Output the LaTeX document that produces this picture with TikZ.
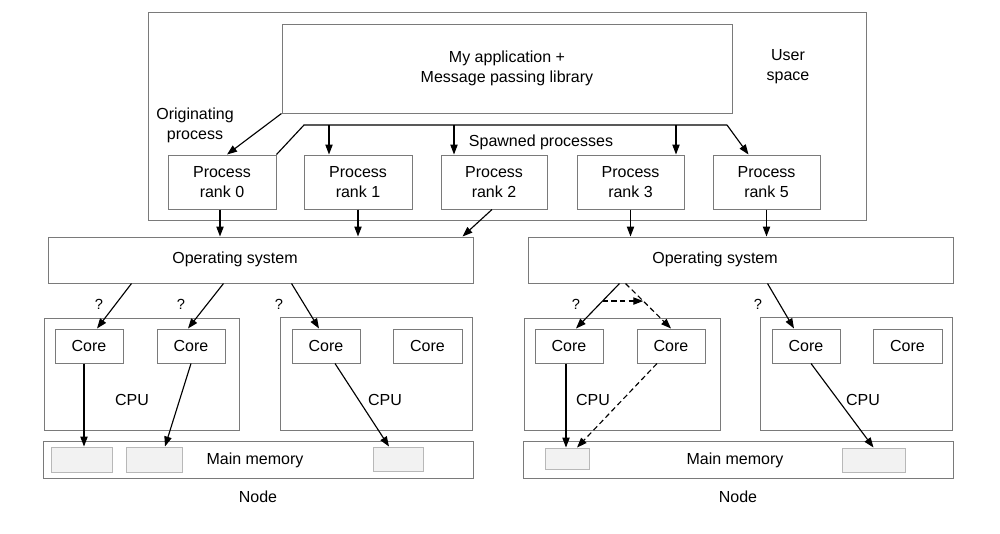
\documentclass[tikz,border=0pt]{standalone}
\usepackage{fontspec}
\setmainfont{Liberation Sans}
\usetikzlibrary{arrows.meta,calc}
\newcommand\bx[7]{\node[#2, minimum width={(#5-#3)*0.75pt}, minimum height={(#6-#4)*0.75pt}] (#1) at ({(#3+#5)/2},{(#4+#6)/2}) {#7};}
\tikzset{
  box/.style={draw=black!52, line width=0.75pt, inner sep=0pt, align=center, font=\fontsize{12}{15}\selectfont},
  blk/.style={draw=black!28, fill=black!5, line width=0.7pt, inner sep=0pt},
  lbl/.style={inner sep=0pt, align=center, font=\fontsize{12}{15}\selectfont},
  qm/.style={inner sep=0pt, font=\fontsize{11}{13}\selectfont},
  conn/.style={draw=black, line width=0.85pt},
  arr/.style={conn, -{Triangle[length=7.5pt,width=5.5pt]}},
  dsh/.style={dash pattern=on 4pt off 2.5pt}
}
\begin{document}
\begin{tikzpicture}[x=0.75pt,y=-0.75pt]
\useasboundingbox (0,0) rectangle (1000,533);
% user space
\bx{us}{box}{148}{12}{866}{220}{}
\bx{app}{box}{282}{24}{732}{113}{My application +\\Message passing library}
\node[lbl] (uslbl) at (788,67) {User\\space};
\node[lbl] (orig) at (195,125) {Originating\\process};
\node[lbl] (spawn) at (541,142) {Spawned processes};
\bx{proc0}{box}{168}{155}{276}{209}{Process\\rank 0}
\bx{proc1}{box}{304}{155}{412}{209}{Process\\rank 1}
\bx{proc2}{box}{441}{155}{547}{209}{Process\\rank 2}
\bx{proc3}{box}{577}{155}{684}{209}{Process\\rank 3}
\bx{proc5}{box}{713}{155}{820}{209}{Process\\rank 5}
% operating systems
\bx{os1}{box}{48}{237}{473}{283}{}
\bx{os2}{box}{528}{237}{953}{283}{}
\node[lbl] (os1t) at (235,259) {Operating system};
\node[lbl] (os2t) at (715,259) {Operating system};
% left node
\bx{cpuA}{box}{44}{318}{239}{430}{}
\bx{cpuB}{box}{280}{317}{472}{430}{}
\bx{coreA1}{box}{55}{329}{123}{363}{Core}
\bx{coreA2}{box}{157}{329}{225}{363}{Core}
\bx{coreA3}{box}{292}{329}{360}{363}{Core}
\bx{coreA4}{box}{393}{329}{462}{363}{Core}
\node[lbl] (cpuAt) at (132,400) {CPU};
\node[lbl] (cpuBt) at (385,400) {CPU};
\bx{memA}{box}{43}{441}{473}{478}{}
\node[lbl] (memAt) at (255,460) {Main memory};
\bx{blkA1}{blk}{51}{447}{112}{472}{}
\bx{blkA2}{blk}{126}{447}{182}{472}{}
\bx{blkA3}{blk}{373}{447}{423}{471}{}
\node[lbl] (nodeA) at (258,497) {Node};
% right node
\bx{cpuC}{box}{524}{318}{720}{430}{}
\bx{cpuD}{box}{760}{317}{952}{430}{}
\bx{coreB1}{box}{535}{329}{603}{363}{Core}
\bx{coreB2}{box}{637}{329}{705}{363}{Core}
\bx{coreB3}{box}{772}{329}{840}{363}{Core}
\bx{coreB4}{box}{873}{329}{942}{363}{Core}
\node[lbl] (cpuCt) at (593,400) {CPU};
\node[lbl] (cpuDt) at (863,400) {CPU};
\bx{memB}{box}{523}{441}{953}{478}{}
\node[lbl] (memBt) at (735,460) {Main memory};
\bx{blkB1}{blk}{545}{448}{589}{469}{}
\bx{blkB2}{blk}{842}{448}{905}{472}{}
\node[lbl] (nodeB) at (738,497) {Node};
% question marks
\node[qm] (q1) at (99,304) {?};
\node[qm] (q2) at (181,304) {?};
\node[qm] (q3) at (279,304) {?};
\node[qm] (q4) at (576,304) {?};
\node[qm] (q5) at (758,304) {?};
% originating and spawned
\draw[arr] (app.south west) -- ($(proc0.north)+(5,0)$);
\coordinate (sp1) at (304,125);
\coordinate (sp2) at (727,125);
\coordinate (b1) at (329,125);
\coordinate (b2) at (454,125);
\coordinate (b3) at (676,125);
\draw[conn] (proc0.north east) -- (sp1) -- (sp2);
\draw[arr] (sp2) -- ($(proc5.north west)+(36,0)$);
\draw[arr] (b1) -- (b1 |- proc1.north);
\draw[arr] (b2) -- (b2 |- proc2.north);
\draw[arr] (b3) -- (b3 |- proc3.north);
% processes to OS
\draw[arr] ($(proc0.south)+(-2,0)$) -- ($(proc0.south |- os1.north)+(-2,0)$);
\draw[arr] (proc1.south) -- (proc1.south |- os1.north);
\draw[arr] ($(proc2.south)+(-2,0)$) -- ($(os1.north east)+(-11,0)$);
\draw[arr] (proc3.south) -- (proc3.south |- os2.north);
\draw[arr] (proc5.south) -- (proc5.south |- os2.north);
% OS to cores, left
\draw[arr] ($(os1.south west)+(84,0)$) -- ($(coreA1.north)+(8,0)$);
\draw[arr] ($(os1.south west)+(176,0)$) -- ($(coreA2.north)+(-3,0)$);
\draw[arr] ($(os1.south west)+(244,0)$) -- ($(coreA3.north)+(-7,0)$);
% OS to cores, right
\coordinate (s1) at ($(os2.south west)+(92,0)$);
\coordinate (e1) at ($(coreB1.north)+(7,0)$);
\coordinate (s2) at ($(os2.south west)+(98,0)$);
\coordinate (e2) at (coreB2.north);
\draw[arr] (s1) -- (e1);
\draw[arr,dsh] (s2) -- (e2);
\draw[arr,dsh] ($(s1)!0.39!(e1)$) -- ($(s2)!0.39!(e2)$);
\draw[arr] ($(os2.south west)+(240,0)$) -- ($(coreB3.north)+(-12,0)$);
% cores to memory, left
\draw[arr] ($(coreA1.south)+(-5,0)$) -- ($(coreA1.south |- blkA1.north)+(-5,0)$);
\draw[arr] (coreA2.south) -- ($(blkA2.north)+(11,0)$);
\draw[arr] ($(coreA3.south)+(9,0)$) -- ($(blkA3.north)+(-9,0)$);
% cores to memory, right
\draw[arr] ($(coreB1.south)+(-3,0)$) -- ($(coreB1.south |- blkB1.north)+(-3,0)$);
\draw[arr,dsh] ($(coreB2.south)+(-14,0)$) -- ($(blkB1.north)+(10,0)$);
\draw[arr] ($(coreB3.south)+(5,0)$) -- (blkB2.north);
\end{tikzpicture}
\end{document}
